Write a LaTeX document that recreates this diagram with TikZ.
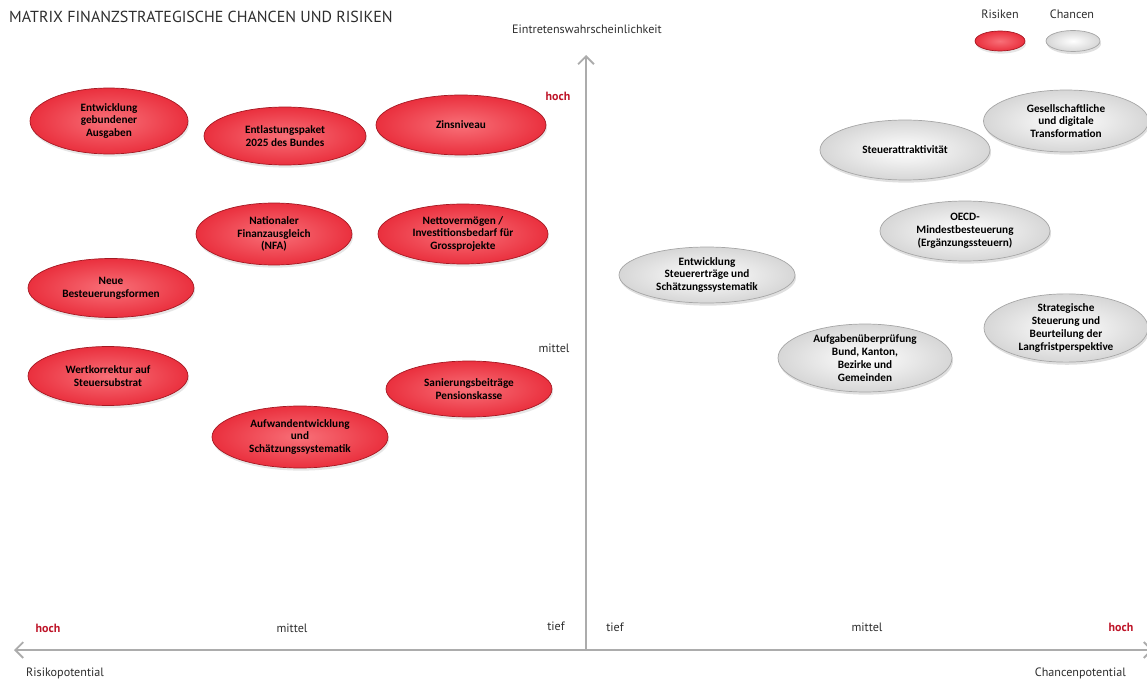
\documentclass[tikz,border=0pt]{standalone}
\usepackage{fontspec}
\setmainfont{PT Sans}
\newfontfamily\ellfont{Carlito}
\usetikzlibrary{shapes.geometric,shadows,arrows.meta}
\definecolor{rred}{RGB}{234,48,62}
\definecolor{rlight}{RGB}{248,112,120}
\definecolor{rdark}{RGB}{165,25,35}
\definecolor{axisgray}{RGB}{172,172,172}
\definecolor{hochred}{RGB}{190,20,40}
\definecolor{txtgray}{RGB}{45,45,45}

\begin{document}
\begin{tikzpicture}[x=0.02cm, y=-0.02cm,
    risk/.style={ellipse, draw=rdark, line width=0.4pt, inner color=rlight, outer color=rred,
        align=center, inner sep=0pt, text=black, font=\ellfont\bfseries\fontsize{6.4}{7.3}\selectfont,
        drop shadow={opacity=0.2, shadow xshift=0.6pt, shadow yshift=-1.5pt}},
    chance/.style={ellipse, draw=gray!70, line width=0.4pt, inner color=white, outer color=gray!32,
        align=center, inner sep=0pt, text=black, font=\ellfont\bfseries\fontsize{6.4}{7.3}\selectfont,
        drop shadow={opacity=0.25, shadow xshift=0.6pt, shadow yshift=-1.5pt}},
    lbl/.style={font=\fontsize{6.9}{8}\selectfont, text=txtgray},
    hoch/.style={font=\bfseries\fontsize{6.8}{8}\selectfont, text=hochred},
    axis/.style={draw=axisgray, line width=1.1pt, -{Straight Barb[length=4.5pt, width=9pt]}}
]
    \useasboundingbox (0,0) rectangle (1147,679);

    % axes
    \coordinate (origin) at (586,650);
    \coordinate (ytop) at (586,55);
    \coordinate (xleft) at (14,650);
    \coordinate (xright) at (1153,650);
    \draw[axis] (origin) -- (ytop);
    \draw[axis] (origin) -- (xleft);
    \draw[axis] (origin) -- (xright);

    \node[anchor=west, font=\fontsize{9.1}{11}\selectfont, text=txtgray] (title) at (3,17) {MATRIX FINANZSTRATEGISCHE CHANCEN UND RISIKEN};
    \node[lbl] (yaxis) at (587,29) {Eintretenswahrscheinlichkeit};
    \node[lbl, anchor=west] (xrisk) at (20,673) {Risikopotential};
    \node[lbl, anchor=east] (xchance) at (1132,673) {Chancenpotential};

    \node[hoch] (yhoch) at (558,96) {hoch};
    \node[lbl] (ymittel) at (554,348) {mittel};
    \node[lbl] (ytiefl) at (556,626) {tief};
    \node[lbl] (ytiefr) at (615,627) {tief};
    \node[hoch] (rhoch) at (48,628) {hoch};
    \node[lbl] (rmittel) at (292,628) {mittel};
    \node[lbl] (cmittel) at (867,627) {mittel};
    \node[hoch] (choch) at (1121,627) {hoch};

    % legend
    \node[lbl] (legrisk) at (1000,14) {Risiken};
    \node[lbl] (legchance) at (1072,14) {Chancen};
    \node[risk, minimum width=1cm, minimum height=0.4cm] (legr) at (1000,41) {};
    \node[chance, minimum width=1.08cm, minimum height=0.42cm] (legc) at (1073,41) {};

    % risiken
    \node[risk, minimum width=3.16cm, minimum height=1.32cm] (gebunden) at (109,121) {Entwicklung\\gebundener\\Ausgaben};
    \node[risk, minimum width=3.24cm, minimum height=1.16cm] (entlastung) at (285,136) {Entlastungspaket\\2025 des Bundes};
    \node[risk, minimum width=3.4cm, minimum height=1.2cm] (zins) at (461,125) {Zinsniveau};
    \node[risk, minimum width=3.12cm, minimum height=1.24cm] (nfa) at (274,234) {Nationaler\\Finanzausgleich\\(NFA)};
    \node[risk, minimum width=3.4cm, minimum height=1.2cm] (netto) at (463,234) {Nettovermögen /\\Investitionsbedarf für\\Grossprojekte};
    \node[risk, minimum width=3.32cm, minimum height=1.18cm] (neue) at (111,288) {Neue\\Besteuerungsformen};
    \node[risk, minimum width=3.2cm, minimum height=1.18cm] (wert) at (108,376) {Wertkorrektur auf\\Steuersubstrat};
    \node[risk, minimum width=3.32cm, minimum height=1.12cm] (sanierung) at (469,389) {Sanierungsbeiträge\\Pensionskasse};
    \node[risk, minimum width=3.52cm, minimum height=1.24cm] (aufwand) at (300,437) {Aufwandentwicklung\\und\\Schätzungssystematik};

    % chancen
    \node[chance, minimum width=3.4cm, minimum height=1.2cm] (attrakt) at (905,150) {Steuerattraktivität};
    \node[chance, minimum width=3.3cm, minimum height=1.24cm] (gesell) at (1066,121) {Gesellschaftliche\\und digitale\\Transformation};
    \node[chance, minimum width=3.4cm, minimum height=1.2cm] (oecd) at (965,231) {OECD-\\Mindestbesteuerung\\(Ergänzungssteuern)};
    \node[chance, minimum width=3.52cm, minimum height=1.12cm] (ertraege) at (707,275) {Entwicklung\\Steuererträge und\\Schätzungssystematik};
    \node[chance, minimum width=3.48cm, minimum height=1.36cm] (aufgaben) at (865,358) {Aufgabenüberprüfung\\Bund, Kanton,\\Bezirke und\\Gemeinden};
    \node[chance, minimum width=3.28cm, minimum height=1.24cm] (strategie) at (1066,328) {Strategische\\Steuerung und\\Beurteilung der\\Langfristperspektive};
\end{tikzpicture}
\end{document}
